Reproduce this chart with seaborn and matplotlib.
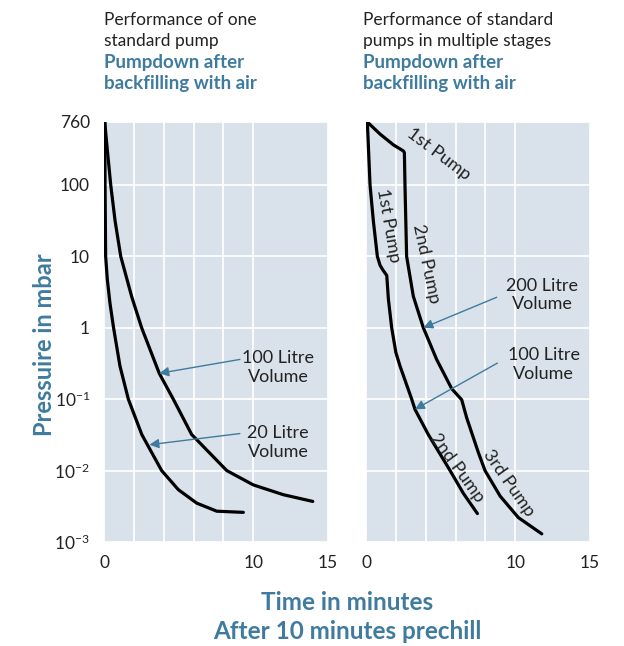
import matplotlib
matplotlib.use('Agg')
import matplotlib.pyplot as plt
from matplotlib.ticker import NullLocator
import seaborn as sns

# --- data (time in min, pressure in mbar) ---
# left: one standard pump
t_single_100l = [0.05, 0.2, 0.45, 0.74, 1.12, 1.86, 2.52, 3.7, 4.64, 5.87, 8.22, 10.0, 12.0, 13.98]
p_single_100l = [760, 347, 100, 31.6, 10, 2.7, 1.0, 0.23, 0.1, 0.032, 0.01, 0.0063, 0.0046, 0.0037]
t_single_20l = [0.05, 0.07, 0.11, 0.22, 0.4, 0.64, 1.07, 1.63, 2.53, 3.86, 4.98, 6.21, 7.55, 9.33]
p_single_20l = [760, 100, 10, 4.8, 2.2, 1.0, 0.29, 0.1, 0.032, 0.01, 0.0054, 0.0035, 0.0027, 0.0026]

# right: standard pumps in multiple stages
t_multi_200l = [0.09, 0.94, 1.83, 2.5, 2.57, 2.61, 2.72, 3.17, 3.84, 4.73, 5.74, 6.41, 6.74, 7.52, 7.97,
                8.98, 10.2, 11.77]
p_multi_200l = [760, 515, 364, 299, 283, 100, 10, 2.75, 1.0, 0.36, 0.14, 0.098, 0.055, 0.018, 0.01,
                0.0044, 0.0022, 0.0013]
t_multi_100l = [0.09, 0.16, 0.27, 0.49, 0.76, 0.94, 1.16, 1.39, 1.5, 1.72, 2.0, 2.28, 3.06, 3.28, 4.17,
                5.63, 6.52, 7.46]
p_multi_100l = [760, 347, 100, 31.6, 10, 7.5, 6.3, 5.4, 2.5, 1.0, 0.45, 0.29, 0.1, 0.072, 0.032,
                0.01, 0.0048, 0.0025]

y_ticks = [0.001, 0.01, 0.1, 1, 10, 100, 760]
y_labels = [r'$\mathregular{10^{-3}}$', r'$\mathregular{10^{-2}}$', r'$\mathregular{10^{-1}}$',
            '1', '10', '100', '760']
x_ticks = [0, 10, 15]
x_grid = [2, 4, 6, 8]

BLUE = '#3f7b9e'
BG = '#d9e2eb'
INK = '#222222'

sns.set_style('white', {'axes.facecolor': BG})
plt.rcParams['font.family'] = ['Lato', 'DejaVu Sans']
plt.rcParams['mathtext.fontset'] = 'custom'
plt.rcParams['mathtext.rm'] = 'Lato'
plt.rcParams['mathtext.bf'] = 'Lato:bold'

fig = plt.figure(figsize=(6.24, 6.46), dpi=100)
ax1 = fig.add_axes([104 / 624, 104 / 646, 224 / 624, 420 / 646])
ax2 = fig.add_axes([366 / 624, 104 / 646, 224 / 624, 420 / 646])


def curve(ax, t, p):
    sns.lineplot(x=t, y=p, ax=ax, color='black', lw=2.3, sort=False, estimator=None,
                 solid_joinstyle='round', solid_capstyle='round')


def style(ax, show_y):
    ax.set_yscale('log')
    ax.set_xlim(0, 15)
    ax.set_ylim(0.001, 760)
    ax.set_xticks(x_ticks)
    ax.set_xticks(x_grid, minor=True)
    ax.set_yticks(y_ticks)
    ax.yaxis.set_minor_locator(NullLocator())
    ax.set_xticklabels([str(v) for v in x_ticks])
    ax.set_yticklabels(y_labels if show_y else [])
    ax.grid(which='both', color='white', lw=1.2)
    ax.set_axisbelow(True)
    ax.tick_params(which='both', length=0, labelsize=12.5, colors=INK)
    ax.tick_params(axis='x', pad=9)
    ax.tick_params(axis='y', pad=10)
    for s in ax.spines.values():
        s.set_visible(False)
    ax.set_xlabel('')
    ax.set_ylabel('')


def label_arrow(ax, text, text_xy, tail, tip):
    ax.annotate('', xy=tip, xytext=tail,
                arrowprops=dict(arrowstyle='-|>', color=BLUE, lw=1.0,
                                mutation_scale=14, shrinkA=0, shrinkB=0))
    ax.text(*text_xy, text, ha='center', va='center', fontsize=13,
            color=INK, linespacing=1.2)


curve(ax1, t_single_100l, p_single_100l)
curve(ax1, t_single_20l, p_single_20l)
curve(ax2, t_multi_200l, p_multi_200l)
curve(ax2, t_multi_100l, p_multi_100l)
style(ax1, True)
style(ax2, False)

label_arrow(ax1, '100 Litre\nVolume', (11.65, 0.275), (9.1, 0.36),
            (t_single_100l[7], p_single_100l[7]))
label_arrow(ax1, '20 Litre\nVolume', (11.65, 0.0245), (9.1, 0.033), (3.04, 0.023))
label_arrow(ax2, '200 Litre\nVolume', (11.8, 2.88), (8.75, 2.67),
            (t_multi_200l[8], p_multi_200l[8]))
label_arrow(ax2, '100 Litre\nVolume', (11.9, 0.308), (8.8, 0.32),
            (t_multi_100l[13], p_multi_100l[13]))

pump_kw = dict(ha='center', va='center', fontsize=13, color=INK, rotation_mode='anchor')
ax2.text(4.84, 270, '1st Pump', rotation=-37, **pump_kw)
ax2.text(1.49, 27, '1st Pump', rotation=-80, **pump_kw)
ax2.text(4.0, 7.9, '2nd Pump', rotation=-78, **pump_kw)
ax2.text(6.07, 0.011, '2nd Pump', rotation=-54, **pump_kw)
ax2.text(9.58, 0.0067, '3rd Pump', rotation=-55, **pump_kw)

# titles above each panel
for x0, first in [(104, 'Performance of one\nstandard pump'),
                  (363, 'Performance of standard\npumps in multiple stages')]:
    fig.text(x0 / 624, 1 - 12 / 646, first, ha='left', va='top', fontsize=12.5,
             color=INK, linespacing=1.37)
    fig.text(x0 / 624, 1 - 54 / 646, 'Pumpdown after\nbackfilling with air', ha='left', va='top',
             fontsize=13.5, color=BLUE, fontweight='bold', linespacing=1.27)

fig.text(45 / 624, 1 - 345 / 646, 'Pressuire in mbar', rotation=90, ha='center', va='center',
         fontsize=17, color=BLUE, fontweight='bold')
fig.text(347 / 624, 1 - 617 / 646, 'Time in minutes\nAfter 10 minutes prechill',
         ha='center', va='center', fontsize=17.5, color=BLUE, fontweight='bold', linespacing=1.3)

fig.savefig('out.png', dpi=100, facecolor='white')
